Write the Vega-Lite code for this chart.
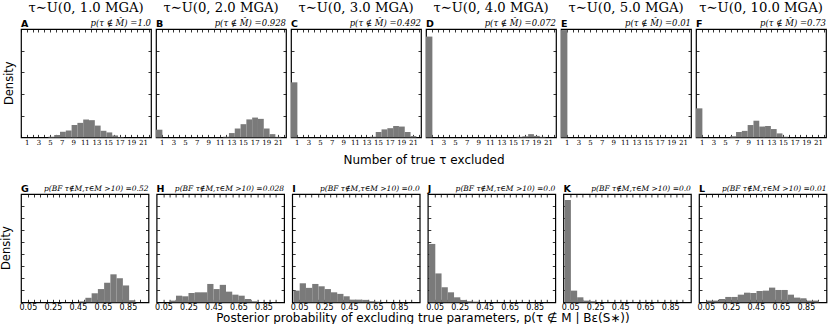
{
  "$schema": "https://vega.github.io/schema/vega-lite/v6.json",
  "padding": 0,
  "config": {
    "view": {"stroke": "black", "strokeWidth": 1.2},
    "axis": {"domain": false, "grid": false, "tickColor": "black", "tickWidth": 0.8, "labelColor": "black"},
    "text": {"color": "black"}
  },
  "datasets": {
    "hist": [
      {"row":"top","panel":"A","kind":"ann","title":"τ∼U(0, 1.0 MGA)","note":"p(τ ∉ M̂) =1.0"},
      {"row":"top","panel":"B","kind":"ann","title":"τ∼U(0, 2.0 MGA)","note":"p(τ ∉ M̂) =0.928"},
      {"row":"top","panel":"C","kind":"ann","title":"τ∼U(0, 3.0 MGA)","note":"p(τ ∉ M̂) =0.492"},
      {"row":"top","panel":"D","kind":"ann","title":"τ∼U(0, 4.0 MGA)","note":"p(τ ∉ M̂) =0.072"},
      {"row":"top","panel":"E","kind":"ann","title":"τ∼U(0, 5.0 MGA)","note":"p(τ ∉ M̂) =0.01"},
      {"row":"top","panel":"F","kind":"ann","title":"τ∼U(0, 10.0 MGA)","note":"p(τ ∉ M̂) =0.73"},
      {"row":"top","panel":"A","kind":"bar","x":4.72,"x2":5.72,"y":0.005},
      {"row":"top","panel":"A","kind":"bar","x":5.72,"x2":6.72,"y":0.022},
      {"row":"top","panel":"A","kind":"bar","x":6.72,"x2":7.72,"y":0.052},
      {"row":"top","panel":"A","kind":"bar","x":7.72,"x2":8.72,"y":0.064},
      {"row":"top","panel":"A","kind":"bar","x":8.72,"x2":9.72,"y":0.114},
      {"row":"top","panel":"A","kind":"bar","x":9.72,"x2":10.72,"y":0.134},
      {"row":"top","panel":"A","kind":"bar","x":10.72,"x2":11.72,"y":0.165},
      {"row":"top","panel":"A","kind":"bar","x":11.72,"x2":12.72,"y":0.159},
      {"row":"top","panel":"A","kind":"bar","x":12.72,"x2":13.72,"y":0.109},
      {"row":"top","panel":"A","kind":"bar","x":13.72,"x2":14.72,"y":0.061},
      {"row":"top","panel":"A","kind":"bar","x":14.72,"x2":15.72,"y":0.046},
      {"row":"top","panel":"A","kind":"bar","x":15.72,"x2":16.72,"y":0.018},
      {"row":"top","panel":"A","kind":"bar","x":16.72,"x2":17.72,"y":0.004},
      {"row":"top","panel":"B","kind":"bar","x":0,"x2":1.1,"y":0.071},
      {"row":"top","panel":"B","kind":"bar","x":11.57,"x2":12.57,"y":0.006},
      {"row":"top","panel":"B","kind":"bar","x":12.57,"x2":13.57,"y":0.04},
      {"row":"top","panel":"B","kind":"bar","x":13.57,"x2":14.57,"y":0.082},
      {"row":"top","panel":"B","kind":"bar","x":14.57,"x2":15.57,"y":0.122},
      {"row":"top","panel":"B","kind":"bar","x":15.57,"x2":16.57,"y":0.166},
      {"row":"top","panel":"B","kind":"bar","x":16.57,"x2":17.57,"y":0.183},
      {"row":"top","panel":"B","kind":"bar","x":17.57,"x2":18.57,"y":0.171},
      {"row":"top","panel":"B","kind":"bar","x":18.57,"x2":19.57,"y":0.082},
      {"row":"top","panel":"B","kind":"bar","x":19.57,"x2":20.57,"y":0.03},
      {"row":"top","panel":"B","kind":"bar","x":20.57,"x2":21.57,"y":0.005},
      {"row":"top","panel":"C","kind":"bar","x":0,"x2":1.1,"y":0.508},
      {"row":"top","panel":"C","kind":"bar","x":13.6,"x2":14.6,"y":0.006},
      {"row":"top","panel":"C","kind":"bar","x":14.6,"x2":15.6,"y":0.05},
      {"row":"top","panel":"C","kind":"bar","x":15.6,"x2":16.6,"y":0.074},
      {"row":"top","panel":"C","kind":"bar","x":16.6,"x2":17.6,"y":0.085},
      {"row":"top","panel":"C","kind":"bar","x":17.6,"x2":18.6,"y":0.105},
      {"row":"top","panel":"C","kind":"bar","x":18.6,"x2":19.6,"y":0.1},
      {"row":"top","panel":"C","kind":"bar","x":19.6,"x2":20.6,"y":0.05},
      {"row":"top","panel":"C","kind":"bar","x":20.6,"x2":21.6,"y":0.012},
      {"row":"top","panel":"D","kind":"bar","x":0,"x2":1.1,"y":0.93},
      {"row":"top","panel":"D","kind":"bar","x":15.6,"x2":16.6,"y":0.005},
      {"row":"top","panel":"D","kind":"bar","x":16.6,"x2":17.6,"y":0.01},
      {"row":"top","panel":"D","kind":"bar","x":17.6,"x2":18.6,"y":0.03},
      {"row":"top","panel":"D","kind":"bar","x":18.6,"x2":19.6,"y":0.014},
      {"row":"top","panel":"D","kind":"bar","x":19.6,"x2":20.6,"y":0.005},
      {"row":"top","panel":"E","kind":"bar","x":0,"x2":1.1,"y":0.99},
      {"row":"top","panel":"F","kind":"bar","x":0,"x2":1.1,"y":0.268},
      {"row":"top","panel":"F","kind":"bar","x":5.9,"x2":6.9,"y":0.01},
      {"row":"top","panel":"F","kind":"bar","x":6.9,"x2":7.9,"y":0.05},
      {"row":"top","panel":"F","kind":"bar","x":7.9,"x2":8.9,"y":0.06},
      {"row":"top","panel":"F","kind":"bar","x":8.9,"x2":9.9,"y":0.114},
      {"row":"top","panel":"F","kind":"bar","x":9.9,"x2":10.9,"y":0.154},
      {"row":"top","panel":"F","kind":"bar","x":10.9,"x2":11.9,"y":0.1},
      {"row":"top","panel":"F","kind":"bar","x":11.9,"x2":12.9,"y":0.105},
      {"row":"top","panel":"F","kind":"bar","x":12.9,"x2":13.9,"y":0.077},
      {"row":"top","panel":"F","kind":"bar","x":13.9,"x2":14.9,"y":0.037},
      {"row":"top","panel":"F","kind":"bar","x":14.9,"x2":15.9,"y":0.006},

      {"row":"bottom","panel":"G","kind":"ann","note":"p(BF τ∉M,τ∈M >10) =0.52"},
      {"row":"bottom","panel":"H","kind":"ann","note":"p(BF τ∉M,τ∈M >10) =0.028"},
      {"row":"bottom","panel":"I","kind":"ann","note":"p(BF τ∉M,τ∈M >10) =0.0"},
      {"row":"bottom","panel":"J","kind":"ann","note":"p(BF τ∉M,τ∈M >10) =0.0"},
      {"row":"bottom","panel":"K","kind":"ann","note":"p(BF τ∉M,τ∈M >10) =0.0"},
      {"row":"bottom","panel":"L","kind":"ann","note":"p(BF τ∉M,τ∈M >10) =0.01"},
      {"row":"bottom","panel":"G","kind":"bar","x":0.46,"x2":0.51,"y":0.15},
      {"row":"bottom","panel":"G","kind":"bar","x":0.51,"x2":0.56,"y":0.75},
      {"row":"bottom","panel":"G","kind":"bar","x":0.56,"x2":0.61,"y":1.5},
      {"row":"bottom","panel":"G","kind":"bar","x":0.61,"x2":0.66,"y":2.2},
      {"row":"bottom","panel":"G","kind":"bar","x":0.66,"x2":0.71,"y":3.25},
      {"row":"bottom","panel":"G","kind":"bar","x":0.71,"x2":0.76,"y":4.65},
      {"row":"bottom","panel":"G","kind":"bar","x":0.76,"x2":0.81,"y":4.0},
      {"row":"bottom","panel":"G","kind":"bar","x":0.81,"x2":0.86,"y":2.8},
      {"row":"bottom","panel":"G","kind":"bar","x":0.86,"x2":0.91,"y":0.35},
      {"row":"bottom","panel":"H","kind":"bar","x":0.1,"x2":0.15,"y":0.28},
      {"row":"bottom","panel":"H","kind":"bar","x":0.15,"x2":0.2,"y":1.1},
      {"row":"bottom","panel":"H","kind":"bar","x":0.2,"x2":0.25,"y":1.0},
      {"row":"bottom","panel":"H","kind":"bar","x":0.25,"x2":0.3,"y":1.55},
      {"row":"bottom","panel":"H","kind":"bar","x":0.3,"x2":0.35,"y":1.66},
      {"row":"bottom","panel":"H","kind":"bar","x":0.35,"x2":0.4,"y":1.66},
      {"row":"bottom","panel":"H","kind":"bar","x":0.4,"x2":0.45,"y":3.05},
      {"row":"bottom","panel":"H","kind":"bar","x":0.45,"x2":0.5,"y":2.2},
      {"row":"bottom","panel":"H","kind":"bar","x":0.5,"x2":0.55,"y":2.9},
      {"row":"bottom","panel":"H","kind":"bar","x":0.55,"x2":0.6,"y":1.77},
      {"row":"bottom","panel":"H","kind":"bar","x":0.6,"x2":0.65,"y":1.27},
      {"row":"bottom","panel":"H","kind":"bar","x":0.65,"x2":0.7,"y":1.1},
      {"row":"bottom","panel":"H","kind":"bar","x":0.7,"x2":0.75,"y":0.55},
      {"row":"bottom","panel":"H","kind":"bar","x":0.75,"x2":0.8,"y":0.17},
      {"row":"bottom","panel":"I","kind":"bar","x":0.005,"x2":0.055,"y":1.94},
      {"row":"bottom","panel":"I","kind":"bar","x":0.055,"x2":0.105,"y":3.16},
      {"row":"bottom","panel":"I","kind":"bar","x":0.105,"x2":0.155,"y":2.4},
      {"row":"bottom","panel":"I","kind":"bar","x":0.155,"x2":0.205,"y":3.05},
      {"row":"bottom","panel":"I","kind":"bar","x":0.205,"x2":0.255,"y":2.66},
      {"row":"bottom","panel":"I","kind":"bar","x":0.255,"x2":0.305,"y":2.2},
      {"row":"bottom","panel":"I","kind":"bar","x":0.305,"x2":0.355,"y":1.66},
      {"row":"bottom","panel":"I","kind":"bar","x":0.355,"x2":0.405,"y":1.4},
      {"row":"bottom","panel":"I","kind":"bar","x":0.405,"x2":0.455,"y":1.0},
      {"row":"bottom","panel":"I","kind":"bar","x":0.455,"x2":0.505,"y":0.44},
      {"row":"bottom","panel":"I","kind":"bar","x":0.505,"x2":0.555,"y":0.44},
      {"row":"bottom","panel":"I","kind":"bar","x":0.555,"x2":0.605,"y":0.4},
      {"row":"bottom","panel":"I","kind":"bar","x":0.605,"x2":0.655,"y":0.17},
      {"row":"bottom","panel":"I","kind":"bar","x":0.655,"x2":0.705,"y":0.1},
      {"row":"bottom","panel":"J","kind":"bar","x":0.005,"x2":0.055,"y":9.7},
      {"row":"bottom","panel":"J","kind":"bar","x":0.055,"x2":0.105,"y":4.8},
      {"row":"bottom","panel":"J","kind":"bar","x":0.105,"x2":0.155,"y":2.5},
      {"row":"bottom","panel":"J","kind":"bar","x":0.155,"x2":0.205,"y":1.66},
      {"row":"bottom","panel":"J","kind":"bar","x":0.205,"x2":0.255,"y":0.83},
      {"row":"bottom","panel":"J","kind":"bar","x":0.255,"x2":0.305,"y":0.39},
      {"row":"bottom","panel":"J","kind":"bar","x":0.305,"x2":0.355,"y":0.17},
      {"row":"bottom","panel":"J","kind":"bar","x":0.355,"x2":0.405,"y":0.1},
      {"row":"bottom","panel":"K","kind":"bar","x":0.005,"x2":0.055,"y":17.0},
      {"row":"bottom","panel":"K","kind":"bar","x":0.055,"x2":0.105,"y":1.94},
      {"row":"bottom","panel":"K","kind":"bar","x":0.105,"x2":0.155,"y":0.83},
      {"row":"bottom","panel":"K","kind":"bar","x":0.155,"x2":0.205,"y":0.28},
      {"row":"bottom","panel":"K","kind":"bar","x":0.205,"x2":0.255,"y":0.17},
      {"row":"bottom","panel":"L","kind":"bar","x":0.055,"x2":0.105,"y":0.28},
      {"row":"bottom","panel":"L","kind":"bar","x":0.105,"x2":0.155,"y":0.28},
      {"row":"bottom","panel":"L","kind":"bar","x":0.155,"x2":0.205,"y":0.55},
      {"row":"bottom","panel":"L","kind":"bar","x":0.205,"x2":0.255,"y":0.89},
      {"row":"bottom","panel":"L","kind":"bar","x":0.255,"x2":0.305,"y":0.89},
      {"row":"bottom","panel":"L","kind":"bar","x":0.305,"x2":0.355,"y":1.27},
      {"row":"bottom","panel":"L","kind":"bar","x":0.355,"x2":0.405,"y":1.6},
      {"row":"bottom","panel":"L","kind":"bar","x":0.405,"x2":0.455,"y":1.55},
      {"row":"bottom","panel":"L","kind":"bar","x":0.455,"x2":0.505,"y":1.88},
      {"row":"bottom","panel":"L","kind":"bar","x":0.505,"x2":0.555,"y":1.94},
      {"row":"bottom","panel":"L","kind":"bar","x":0.555,"x2":0.605,"y":2.44},
      {"row":"bottom","panel":"L","kind":"bar","x":0.605,"x2":0.655,"y":2.05},
      {"row":"bottom","panel":"L","kind":"bar","x":0.655,"x2":0.705,"y":2.05},
      {"row":"bottom","panel":"L","kind":"bar","x":0.705,"x2":0.755,"y":1.27},
      {"row":"bottom","panel":"L","kind":"bar","x":0.755,"x2":0.805,"y":0.78},
      {"row":"bottom","panel":"L","kind":"bar","x":0.805,"x2":0.855,"y":0.67},
      {"row":"bottom","panel":"L","kind":"bar","x":0.855,"x2":0.905,"y":0.28},
      {"row":"bottom","panel":"L","kind":"bar","x":0.905,"x2":0.955,"y":0.28}
    ]
  },
  "spacing": 17,
  "vconcat": [
    {
      "data": {"name": "hist"},
      "transform": [{"filter": "datum.row == 'top'"}],
      "bounds": "flush",
      "spacing": {"row": 0, "column": 5},
      "facet": {
        "row": {"field": "row", "type": "nominal", "title": null,
          "header": {"labelExpr": "'Density'", "labelFont": "DejaVu Sans", "labelFontSize": 11.5, "labelPadding": -0.3, "labelAngle": -90}},
        "column": {"field": "panel", "type": "nominal", "title": "Number of true τ excluded",
          "header": {"labels": false, "titleOrient": "bottom", "titleFont": "DejaVu Sans", "titleFontSize": 12, "titleFontWeight": "normal", "titlePadding": 7}}
      },
      "spec": {
        "width": 130, "height": 108.4,
        "layer": [
          {
            "transform": [{"filter": "datum.kind == 'bar'"}],
            "mark": {"type": "bar", "fill": "#7a7a7a"},
            "encoding": {
              "x": {"field": "x", "type": "quantitative", "scale": {"domain": [0, 22.4], "nice": false, "zero": false},
                "axis": {"orient": "bottom", "title": null, "values": [0,1,2,3,4,5,6,7,8,9,10,11,12,13,14,15,16,17,18,19,20,21,22],
                  "labelExpr": "datum.value % 2 == 1 ? datum.label : ''", "tickSize": -3, "labelPadding": 4, "labelDx": 2.5,
                  "labelFont": "DejaVu Serif", "labelFontSize": 7, "labelFlush": false, "labelOverlap": false}},
              "x2": {"field": "x2"},
              "y": {"field": "y", "type": "quantitative", "scale": {"domain": [0, 1], "nice": false},
                "axis": {"orient": "left", "title": null, "values": [0.2, 0.4, 0.6, 0.8], "labels": false, "tickSize": -3}},
              "y2": {"datum": 0}
            }
          },
          {
            "transform": [{"filter": "datum.kind == 'bar'"}],
            "mark": {"type": "bar", "opacity": 0},
            "encoding": {
              "x": {"field": "x", "type": "quantitative",
                "axis": {"orient": "top", "title": null, "values": [0,1,2,3,4,5,6,7,8,9,10,11,12,13,14,15,16,17,18,19,20,21,22], "labels": false, "tickSize": -3}},
              "x2": {"field": "x2"},
              "y": {"field": "y", "type": "quantitative",
                "axis": {"orient": "right", "title": null, "values": [0.2, 0.4, 0.6, 0.8], "labels": false, "tickSize": -3}},
              "y2": {"datum": 0}
            }
          },
          {
            "transform": [{"filter": "datum.kind == 'ann'"}],
            "mark": {"type": "text", "font": "DejaVu Serif", "fontSize": 13.2, "baseline": "bottom", "dy": -14.3},
            "encoding": {
              "x": {"datum": 11.2, "axis": null},
              "y": {"datum": 1, "axis": null},
              "text": {"field": "title"}
            }
          },
          {
            "transform": [{"filter": "datum.kind == 'ann'"}],
            "mark": {"type": "text", "font": "DejaVu Sans", "fontWeight": "bold", "fontSize": 9.5, "align": "left", "baseline": "bottom", "dy": 0},
            "encoding": {
              "x": {"datum": 0, "axis": null},
              "y": {"datum": 1, "axis": null},
              "text": {"field": "panel"}
            }
          },
          {
            "transform": [{"filter": "datum.kind == 'ann'"}],
            "mark": {"type": "text", "font": "DejaVu Serif", "fontStyle": "italic", "fontSize": 8.5, "align": "right", "baseline": "bottom", "dy": -1},
            "encoding": {
              "x": {"datum": 22.4, "axis": null},
              "y": {"datum": 1, "axis": null},
              "text": {"field": "note"}
            }
          }
        ],
        "resolve": {"axis": {"x": "independent", "y": "independent"}}
      },
      "resolve": {"axis": {"x": "independent", "y": "independent"}}
    },
    {
      "data": {"name": "hist"},
      "transform": [{"filter": "datum.row == 'bottom'"}],
      "bounds": "flush",
      "spacing": {"row": 0, "column": 7.6},
      "facet": {
        "row": {"field": "row", "type": "nominal", "title": null,
          "header": {"labelExpr": "'Density'", "labelFont": "DejaVu Sans", "labelFontSize": 11.5, "labelPadding": 3, "labelAngle": -90}},
        "column": {"field": "panel", "type": "nominal", "title": "Posterior probability of excluding true parameters, p(τ ∉ M | Bε(S∗))",
          "header": {"labels": false, "titleOrient": "bottom", "titleFont": "DejaVu Sans", "titleFontSize": 12, "titleFontWeight": "normal", "titlePadding": 0}}
      },
      "spec": {
        "width": 127.5, "height": 108.3,
        "layer": [
          {
            "transform": [{"filter": "datum.kind == 'bar'"}],
            "mark": {"type": "bar", "fill": "#7a7a7a"},
            "encoding": {
              "x": {"field": "x", "type": "quantitative", "scale": {"domain": [-0.005, 1.015], "nice": false, "zero": false},
                "axis": {"orient": "bottom", "title": null, "values": [0.05,0.1,0.15,0.2,0.25,0.3,0.35,0.4,0.45,0.5,0.55,0.6,0.65,0.7,0.75,0.8,0.85,0.9,0.95],
                  "labelExpr": "round(datum.value*100) % 20 == 5 ? format(datum.value, '.2f') : ''", "tickSize": -3, "labelPadding": 4,
                  "labelFont": "DejaVu Sans", "labelFontSize": 8, "labelFlush": false, "labelOverlap": false}},
              "x2": {"field": "x2"},
              "y": {"field": "y", "type": "quantitative", "scale": {"domain": [0, 18], "nice": false},
                "axis": {"orient": "left", "title": null, "values": [2,4,6,8,10,12,14,16], "labels": false, "tickSize": -3}},
              "y2": {"datum": 0}
            }
          },
          {
            "transform": [{"filter": "datum.kind == 'bar'"}],
            "mark": {"type": "bar", "opacity": 0},
            "encoding": {
              "x": {"field": "x", "type": "quantitative",
                "axis": {"orient": "top", "title": null, "values": [0.05,0.1,0.15,0.2,0.25,0.3,0.35,0.4,0.45,0.5,0.55,0.6,0.65,0.7,0.75,0.8,0.85,0.9,0.95], "labels": false, "tickSize": -3}},
              "x2": {"field": "x2"},
              "y": {"field": "y", "type": "quantitative",
                "axis": {"orient": "right", "title": null, "values": [2,4,6,8,10,12,14,16], "labels": false, "tickSize": -3}},
              "y2": {"datum": 0}
            }
          },
          {
            "transform": [{"filter": "datum.kind == 'ann'"}],
            "mark": {"type": "text", "font": "DejaVu Sans", "fontWeight": "bold", "fontSize": 9.5, "align": "left", "baseline": "bottom", "dy": 0},
            "encoding": {
              "x": {"datum": -0.005, "axis": null},
              "y": {"datum": 18, "axis": null},
              "text": {"field": "panel"}
            }
          },
          {
            "transform": [{"filter": "datum.kind == 'ann'"}],
            "mark": {"type": "text", "font": "DejaVu Serif", "fontStyle": "italic", "fontSize": 7.5, "align": "right", "baseline": "bottom", "dy": -1},
            "encoding": {
              "x": {"datum": 1.015, "axis": null},
              "y": {"datum": 18, "axis": null},
              "text": {"field": "note"}
            }
          }
        ],
        "resolve": {"axis": {"x": "independent", "y": "independent"}}
      },
      "resolve": {"axis": {"x": "independent", "y": "independent"}}
    }
  ]
}
